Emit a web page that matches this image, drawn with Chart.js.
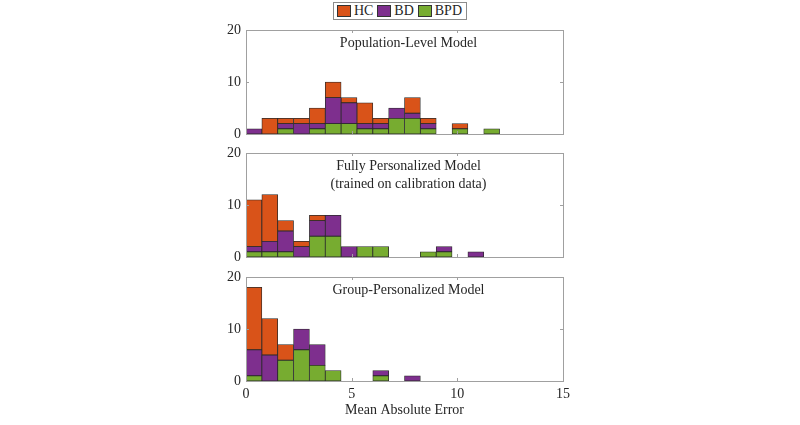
<!DOCTYPE html>
<html>
<head>
<meta charset="utf-8">
<script src="https://cdn.jsdelivr.net/npm/chart.js@4.4.1/dist/chart.umd.min.js"></script>
<style>
  body { margin: 0; background: #fff; }
  #wrap { position: relative; width: 800px; height: 425px; font-family: "Liberation Serif", serif; }
  #wrap canvas { position: absolute; }
  #legend {
    position: absolute; left: 333px; top: 2px; width: 134px; height: 18px;
    border: 1px solid #8c8c8c; display: flex; align-items: center;
    font-size: 14px; color: #262626; box-sizing: border-box; padding-left: 3px;
  }
  #legend .sw { width: 18px; height: 12px; border: 1px solid #333; box-sizing: border-box; margin-right: 3px; }
  #legend .lb { margin-right: 4px; }
</style>
</head>
<body>
<div id="wrap">
  <div id="legend"></div>
  <canvas id="p1" width="380" height="120" style="left:200px;top:20px;width:380px;height:120px"></canvas>
  <canvas id="p2" width="380" height="120" style="left:200px;top:143px;width:380px;height:120px"></canvas>
  <canvas id="p3" width="380" height="152" style="left:200px;top:267px;width:380px;height:152px"></canvas>
</div>
<script>
// histogram bins (left edges), width 0.75
const binStarts = [0, 0.75, 1.5, 2.25, 3, 3.75, 4.5, 5.25, 6, 6.75, 7.5, 8.25, 9, 9.75, 10.5, 11.25, 12, 12.75, 13.5, 14.25];
const binWidth = 0.75;
const xTicks = [0, 5, 10, 15];
const yTicks = [0, 10, 20];

const groups = ['HC', 'BD', 'BPD'];
const colors = { HC: '#D95319', BD: '#7E2F8E', BPD: '#77AC30' };

// Population-Level Model
const popHC  = [0, 3, 1, 1, 3, 3, 1, 4, 1, 0, 3, 1, 0, 1, 0, 0, 0, 0, 0, 0];
const popBD  = [1, 0, 1, 2, 1, 5, 4, 1, 1, 2, 1, 1, 0, 0, 0, 0, 0, 0, 0, 0];
const popBPD = [0, 0, 1, 0, 1, 2, 2, 1, 1, 3, 3, 1, 0, 1, 0, 1, 0, 0, 0, 0];

// Fully Personalized Model
const fullHC  = [9, 9, 2, 1, 1, 0, 0, 0, 0, 0, 0, 0, 0, 0, 0, 0, 0, 0, 0, 0];
const fullBD  = [1, 2, 4, 2, 3, 4, 2, 0, 0, 0, 0, 0, 1, 0, 1, 0, 0, 0, 0, 0];
const fullBPD = [1, 1, 1, 0, 4, 4, 0, 2, 2, 0, 0, 1, 1, 0, 0, 0, 0, 0, 0, 0];

// Group-Personalized Model
const groupHC  = [12, 7, 3, 0, 0, 0, 0, 0, 0, 0, 0, 0, 0, 0, 0, 0, 0, 0, 0, 0];
const groupBD  = [5, 5, 0, 4, 4, 0, 0, 0, 1, 0, 1, 0, 0, 0, 0, 0, 0, 0, 0, 0];
const groupBPD = [1, 0, 4, 6, 3, 2, 0, 0, 1, 0, 0, 0, 0, 0, 0, 0, 0, 0, 0, 0];

const font = { family: '"Liberation Serif", serif', size: 14 };
const textColor = '#262626';
const frameColor = '#a0a0a0';

// legend (HC, BD, BPD)
const legend = document.getElementById('legend');
groups.forEach(g => {
  const sw = document.createElement('span');
  sw.className = 'sw';
  sw.style.background = colors[g];
  const lb = document.createElement('span');
  lb.className = 'lb';
  lb.textContent = g;
  legend.appendChild(sw);
  legend.appendChild(lb);
});

// frame box, inward ticks and title inside the axes
const boxPlugin = {
  id: 'box',
  afterDatasetsDraw(chart) {
    const { ctx, chartArea: a, scales } = chart;
    ctx.save();
    ctx.strokeStyle = frameColor;
    ctx.lineWidth = 1;
    ctx.beginPath();
    xTicks.forEach(v => {
      const x = Math.round(scales.x.getPixelForValue(v)) + 0.5;
      ctx.moveTo(x, a.bottom); ctx.lineTo(x, a.bottom - 3);
      ctx.moveTo(x, a.top); ctx.lineTo(x, a.top + 3);
    });
    yTicks.forEach(v => {
      const y = Math.round(scales.y.getPixelForValue(v)) + 0.5;
      ctx.moveTo(a.left, y); ctx.lineTo(a.left + 3, y);
      ctx.moveTo(a.right, y); ctx.lineTo(a.right - 3, y);
    });
    ctx.stroke();
    ctx.strokeRect(Math.round(a.left) + 0.5, Math.round(a.top) + 0.5,
      Math.round(a.right - a.left), Math.round(a.bottom - a.top));

    const lines = chart.options.plugins.box.lines;
    ctx.fillStyle = textColor;
    ctx.font = '14px "Liberation Serif", serif';
    ctx.textAlign = 'center';
    ctx.textBaseline = 'middle';
    lines.forEach((t, i) => {
      ctx.fillText(t, (a.left + a.right) / 2 + 4, a.top + 13 + i * 18);
    });
    ctx.restore();
  }
};

function makeDataset(label, values) {
  return {
    label: label,
    data: values.map((v, i) => ({ x: binStarts[i] + binWidth / 2, y: v === 0 ? null : v })),
    backgroundColor: colors[label],
    borderColor: '#2b2b2b',
    borderWidth: 0.8,
    borderSkipped: false,
    barPercentage: 1,
    categoryPercentage: 1
  };
}

function drawPanel(id, titleLines, hc, bd, bpd, bottom) {
  const ctx = document.getElementById(id).getContext('2d');
  return new Chart(ctx, {
    type: 'bar',
    data: {
      // BPD at the bottom of each stack, then BD, then HC
      datasets: [makeDataset('BPD', bpd), makeDataset('BD', bd), makeDataset('HC', hc)]
    },
    options: {
      responsive: false,
      animation: false,
      layout: { padding: { top: 10, right: 17, left: 0, bottom: 0 } },
      scales: {
        x: {
          type: 'linear',
          stacked: true,
          min: 0,
          max: 15,
          offset: false,
          grid: { display: false, drawTicks: false },
          border: { display: false },
          ticks: {
            display: bottom,
            stepSize: 5,
            padding: 5,
            color: textColor,
            font: font,
            maxRotation: 0
          },
          title: {
            display: bottom,
            text: 'Mean Absolute Error',
            color: textColor,
            font: font,
            padding: { top: 0, bottom: 0 }
          },
          afterFit: s => {
            s.height = bottom ? 38 : 6;
            s.paddingLeft = 0;
            s.paddingRight = 0;
          }
        },
        y: {
          stacked: true,
          min: 0,
          max: 20,
          grid: { display: false, drawTicks: false },
          border: { display: false },
          ticks: { stepSize: 10, padding: 5, color: textColor, font: font },
          afterFit: s => {
            s.width = 46;
            s.paddingTop = 0;
            s.paddingBottom = 0;
          }
        }
      },
      plugins: {
        legend: { display: false },
        tooltip: { enabled: false },
        box: { lines: titleLines }
      }
    },
    plugins: [boxPlugin]
  });
}

drawPanel('p1', ['Population-Level Model'], popHC, popBD, popBPD, false);
drawPanel('p2', ['Fully Personalized Model', '(trained on calibration data)'], fullHC, fullBD, fullBPD, false);
drawPanel('p3', ['Group-Personalized Model'], groupHC, groupBD, groupBPD, true);
</script>
</body>
</html>
